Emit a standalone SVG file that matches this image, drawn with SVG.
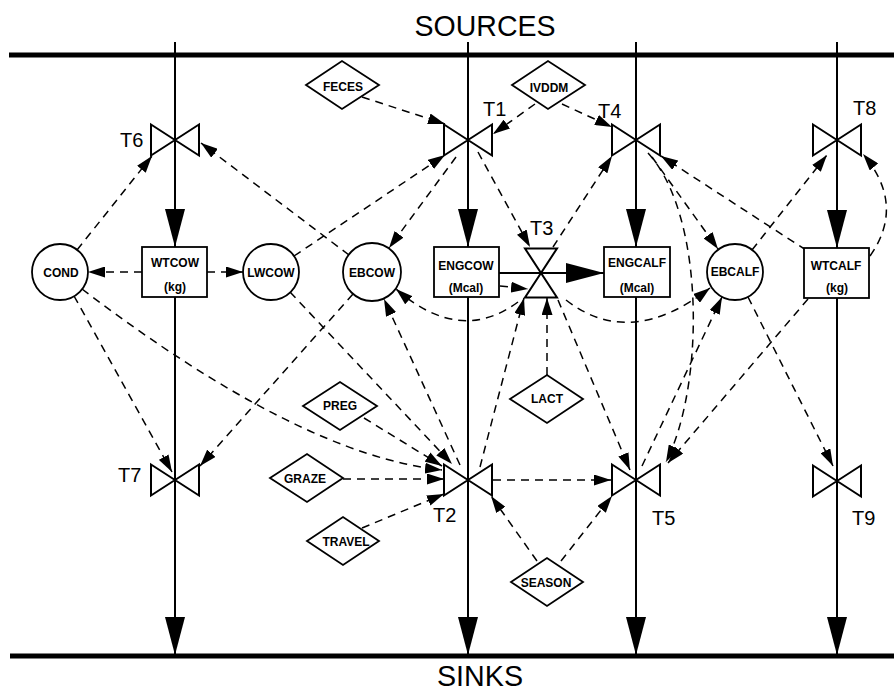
<svg xmlns="http://www.w3.org/2000/svg" width="894" height="693" viewBox="0 0 894 693">
  <style>
    .rail{stroke:#000;stroke-width:5;fill:none}
    .flow{stroke:#000;stroke-width:2;fill:none}
    .info{stroke:#000;stroke-width:1.5;fill:none;stroke-dasharray:8 6;marker-end:url(#ah)}
    .node{fill:#fff;stroke:#000;stroke-width:1.8}
    .valve{fill:none;stroke:#000;stroke-width:2}
    .lbl{font-family:"Liberation Sans",Arial,sans-serif;font-weight:bold;font-size:12px;text-anchor:middle;fill:#000}
    .tag{font-family:"Liberation Sans",Arial,sans-serif;font-size:20px;fill:#000}
    .big{font-family:"Liberation Sans",Arial,sans-serif;font-size:30px;fill:#000;text-anchor:middle}
  </style>
  <defs>
    <marker id="ah" viewBox="0 0 17 11" refX="17" refY="5.5" markerWidth="17" markerHeight="11" markerUnits="userSpaceOnUse" orient="auto">
      <path d="M0,0 L17,5.5 L0,11 Z" fill="#000"/>
    </marker>
    <!-- flow arrowhead, tip at origin pointing down -->
    <path id="fh" d="M0,0 L-10,-38 L10,-38 Z" fill="#000"/>
    <!-- valve symbols -->
    <path id="valveH" d="M-24,-15.5 L24,15.5 L24,-15.5 L-24,15.5 Z"/>
    <path id="valveV" d="M-16,-24.5 L16,-24.5 L-16,24.5 L16,24.5 Z"/>
  </defs>

  <!-- sources / sinks rails -->
  <g id="rails">
    <line class="rail" x1="9" y1="55" x2="894" y2="55"/>
    <line class="rail" x1="10" y1="656" x2="894" y2="656"/>
    <text class="big" x="485" y="36" textLength="141" lengthAdjust="spacingAndGlyphs">SOURCES</text>
    <text class="big" x="480" y="686" font-size="27" textLength="86" lengthAdjust="spacingAndGlyphs">SINKS</text>
  </g>

  <!-- material flows -->
  <g id="flows">
    <line class="flow" x1="175" y1="42" x2="175" y2="656"/>
    <line class="flow" x1="468" y1="42" x2="468" y2="656"/>
    <line class="flow" x1="636" y1="42" x2="636" y2="656"/>
    <line class="flow" x1="837" y1="42" x2="837" y2="656"/>
    <line class="flow" x1="499" y1="273" x2="604" y2="273"/>
    <use href="#fh" x="175" y="247"/>
    <use href="#fh" x="468" y="247"/>
    <use href="#fh" x="636" y="247"/>
    <use href="#fh" x="837" y="248"/>
    <use href="#fh" x="175" y="655"/>
    <use href="#fh" x="468" y="655"/>
    <use href="#fh" x="636" y="655"/>
    <use href="#fh" x="837" y="655"/>
    <use href="#fh" transform="translate(604,273) rotate(-90)"/>
  </g>

  <!-- information links -->
  <g id="connectors">
    <path class="info" d="M142,272 L88,272"/>
    <path class="info" d="M207,272 L243,272"/>
    <path class="info" d="M77,250 L152,156"/>
    <path class="info" d="M349,255 L201,143"/>
    <path class="info" d="M74,296 L172,472"/>
    <path class="info" d="M353,294 L200,466"/>
    <path class="info" d="M82,289 Q300,455 442,470"/>
    <path class="info" d="M294,256 L445,155"/>
    <path class="info" d="M290,292 L452,464"/>
    <path class="info" d="M456,157 L389,248"/>
    <path class="info" d="M362,97 L445,124"/>
    <path class="info" d="M535,104 L493,134"/>
    <path class="info" d="M562,104 L612,127"/>
    <path class="info" d="M478,152 L530,247"/>
    <path class="info" d="M553,247 L612,156"/>
    <path class="info" d="M652,157 L718,249"/>
    <path class="info" d="M648,153 C705,215 705,385 666,462"/>
    <path class="info" d="M806,250 L661,156"/>
    <path class="info" d="M752,250 L827,155"/>
    <path class="info" d="M870,256 Q906,205 863,154"/>
    <path class="info" d="M748,297 L833,466"/>
    <path class="info" d="M808,299 L668,463"/>
    <path class="info" d="M642,466 L722,297"/>
    <path class="info" d="M566,300 Q630,350 710,288"/>
    <path class="info" d="M518,302 Q460,345 396,289"/>
    <path class="info" d="M500,286 L528,289"/>
    <path class="info" d="M547,375 L547,298"/>
    <path class="info" d="M480,467 L524,298"/>
    <path class="info" d="M558,300 L630,470"/>
    <path class="info" d="M460,465 L384,299"/>
    <path class="info" d="M364,418 L442,466"/>
    <path class="info" d="M343,479 L444,479"/>
    <path class="info" d="M362,528 L444,494"/>
    <path class="info" d="M493,480 L611,480"/>
    <path class="info" d="M537,561 L491,496"/>
    <path class="info" d="M561,561 L612,496"/>
  </g>

  <!-- rates (valves) -->
  <g id="T1"><use class="valve" href="#valveH" x="468" y="140"/><text class="tag" x="483" y="116">T1</text></g>
  <g id="T2"><use class="valve" href="#valveH" x="468" y="480"/><text class="tag" x="433" y="522">T2</text></g>
  <g id="T3"><use class="valve" href="#valveV" x="541" y="273"/><text class="tag" x="530" y="235">T3</text></g>
  <g id="T4"><use class="valve" href="#valveH" x="636" y="140"/><text class="tag" x="598" y="118">T4</text></g>
  <g id="T5"><use class="valve" href="#valveH" x="636" y="480"/><text class="tag" x="652" y="525">T5</text></g>
  <g id="T6"><use class="valve" href="#valveH" x="175" y="140"/><text class="tag" x="120" y="147">T6</text></g>
  <g id="T7"><use class="valve" href="#valveH" x="175" y="480"/><text class="tag" x="118" y="482">T7</text></g>
  <g id="T8"><use class="valve" href="#valveH" x="837" y="140"/><text class="tag" x="853" y="115">T8</text></g>
  <g id="T9"><use class="valve" href="#valveH" x="837" y="481"/><text class="tag" x="852" y="525">T9</text></g>

  <!-- levels -->
  <g id="WTCOW"><rect class="node" x="142" y="247" width="65" height="50"/><text class="lbl" x="175" y="267">WTCOW</text><text class="lbl" x="175" y="291">(kg)</text></g>
  <g id="ENGCOW"><rect class="node" x="434" y="247" width="65" height="50"/><text class="lbl" x="466" y="270">ENGCOW</text><text class="lbl" x="466" y="292">(Mcal)</text></g>
  <g id="ENGCALF"><rect class="node" x="604" y="247" width="66" height="50"/><text class="lbl" x="637" y="267">ENGCALF</text><text class="lbl" x="637" y="292">(Mcal)</text></g>
  <g id="WTCALF"><rect class="node" x="804" y="248" width="65" height="50"/><text class="lbl" x="836" y="270">WTCALF</text><text class="lbl" x="837" y="292">(kg)</text></g>

  <!-- auxiliaries -->
  <g id="COND"><circle class="node" cx="60" cy="272" r="28"/><text class="lbl" x="61" y="277">COND</text></g>
  <g id="LWCOW"><circle class="node" cx="271" cy="272" r="28"/><text class="lbl" x="271" y="277">LWCOW</text></g>
  <g id="EBCOW"><circle class="node" cx="372" cy="272" r="29"/><text class="lbl" x="372" y="277">EBCOW</text></g>
  <g id="EBCALF"><circle class="node" cx="735" cy="272" r="28"/><text class="lbl" x="735" y="276">EBCALF</text></g>

  <!-- inputs -->
  <g id="FECES"><polygon class="node" points="306,85 342,61 379,85 342,109"/><text class="lbl" x="343" y="91">FECES</text></g>
  <g id="IVDDM"><polygon class="node" points="512,85 548,61 585,85 548,109"/><text class="lbl" x="549" y="92">IVDDM</text></g>
  <g id="PREG"><polygon class="node" points="303,406 340,382 377,406 340,430"/><text class="lbl" x="340" y="410">PREG</text></g>
  <g id="GRAZE"><polygon class="node" points="270,478 307,454 343,478 307,502"/><text class="lbl" x="305" y="483">GRAZE</text></g>
  <g id="TRAVEL"><polygon class="node" points="307,541 343,517 379,541 343,565"/><text class="lbl" x="346" y="546">TRAVEL</text></g>
  <g id="LACT"><polygon class="node" points="510,399 547,375 583,399 547,423"/><text class="lbl" x="547" y="403">LACT</text></g>
  <g id="SEASON"><polygon class="node" points="511,582 547,558 583,582 547,606"/><text class="lbl" x="546" y="587">SEASON</text></g>
</svg>
